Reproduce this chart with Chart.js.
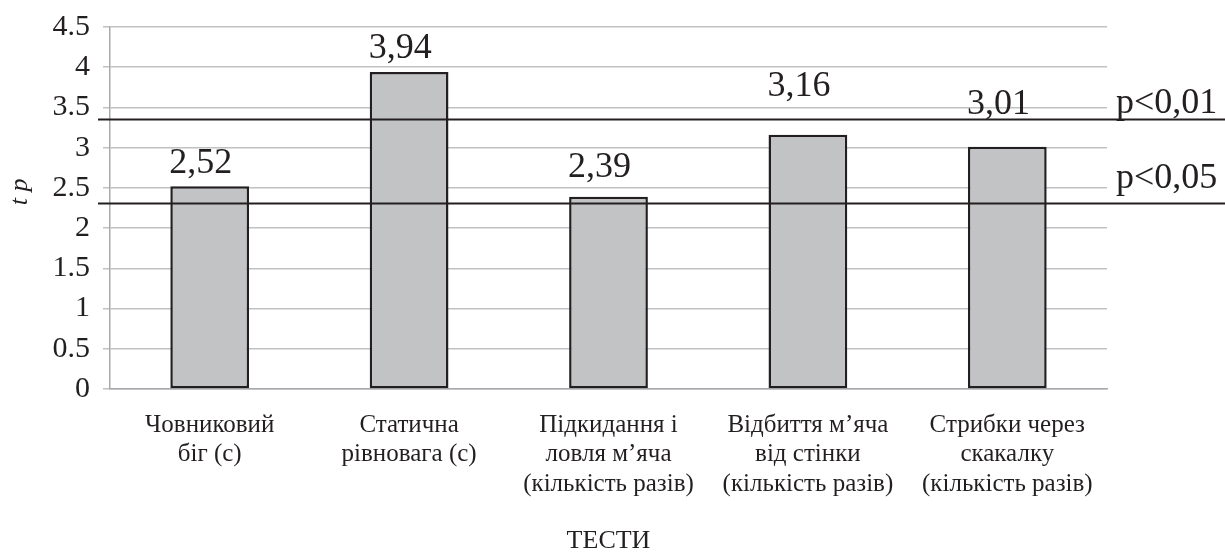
<!DOCTYPE html>
<html>
<head>
<meta charset="utf-8">
<script src="https://cdn.jsdelivr.net/npm/chart.js@4"></script>
<style>
  html, body { margin: 0; padding: 0; background: #ffffff; }
  #wrap { width: 1225px; height: 553px; position: relative; }
</style>
</head>
<body>
<div id="wrap"><canvas id="c" width="1225" height="553"></canvas></div>
<script>
// ---- data ----
const categories = [
  ['Човниковий', 'біг (с)'],
  ['Статична', 'рівновага (с)'],
  ['Підкидання і', 'ловля м’яча', '(кількість разів)'],
  ['Відбиття м’яча', 'від стінки', '(кількість разів)'],
  ['Стрибки через', 'скакалку', '(кількість разів)']
];
const tValues = [2.52, 3.94, 2.39, 3.16, 3.01];
const thresholdValues = [3.36, 2.31];
const thresholdLabels = ['p<0,01', 'p<0,05'];
const yTicks = [0, 0.5, 1, 1.5, 2, 2.5, 3, 3.5, 4, 4.5];
const yTitle = 't p';
const xTitle = 'ТЕСТИ';

const FONT = "'Liberation Serif', 'Times New Roman', serif";
const INK = '#231f20';

const overlayPlugin = {
  id: 'overlay',
  afterDatasetsDraw(chart) {
    const ctx = chart.ctx;
    const y = chart.scales.y;
    const area = chart.chartArea;
    const meta = chart.getDatasetMeta(0);
    ctx.save();
    // value labels (left-aligned with bar edge, lifted to clear the threshold lines)
    const labelLift = [13, 14, 20, 39, 33];
    ctx.font = '36px ' + FONT;
    ctx.fillStyle = INK;
    ctx.textAlign = 'left';
    ctx.textBaseline = 'alphabetic';
    meta.data.forEach((bar, i) => {
      ctx.fillText(tValues[i].toFixed(2).replace('.', ','), bar.x - bar.width / 2 - 1, bar.y - labelLift[i]);
    });
    // threshold lines
    const labelOffsets = [7, 16];
    ctx.strokeStyle = INK;
    ctx.lineWidth = 2.2;
    thresholdValues.forEach((v, i) => {
      const py = Math.round(y.getPixelForValue(v)) + 0.5;
      ctx.beginPath();
      ctx.moveTo(area.left - 12, py);
      ctx.lineTo(chart.width, py);
      ctx.stroke();
      ctx.textAlign = 'left';
      ctx.fillText(thresholdLabels[i], area.right + 9, py - labelOffsets[i]);
    });
    // y axis title (rotated)
    ctx.font = 'italic 26px ' + FONT;
    ctx.textAlign = 'center';
    ctx.textBaseline = 'middle';
    ctx.translate(20, y.getPixelForValue(2.45));
    ctx.rotate(-Math.PI / 2);
    ctx.fillText(yTitle, 0, 0);
    ctx.restore();
  }
};

new Chart(document.getElementById('c'), {
  type: 'bar',
  data: {
    labels: categories,
    datasets: [{
      data: tValues,
      backgroundColor: '#c2c3c5',
      borderColor: INK,
      borderWidth: 2.5,
      borderSkipped: false,
      barPercentage: 0.395,
      categoryPercentage: 1.0
    }]
  },
  options: {
    responsive: false,
    animation: false,
    devicePixelRatio: 1,
    layout: { padding: { left: 0, right: 118, top: 27, bottom: 0 } },
    plugins: {
      legend: { display: false },
      tooltip: { enabled: false }
    },
    scales: {
      x: {
        grid: { display: false, drawTicks: false },
        border: { display: true, color: '#a7a9ac', width: 1.5 },
        ticks: {
          font: { family: FONT, size: 25, lineHeight: 1.17 },
          color: INK,
          padding: 22,
          maxRotation: 0,
          autoSkip: false
        },
        title: {
          display: true,
          text: xTitle,
          font: { family: FONT, size: 26 },
          color: INK,
          padding: { top: 0, bottom: -4 }
        },
        afterFit(scale) { scale.height = 164; }
      },
      y: {
        min: 0,
        max: 4.5,
        afterBuildTicks(scale) { scale.ticks = yTicks.map(v => ({ value: v })); },
        grid: { color: '#c0c1c3', lineWidth: 1.5, drawTicks: true, tickLength: 7 },
        border: { display: true, color: '#a7a9ac', width: 1.5 },
        ticks: {
          font: { family: FONT, size: 30 },
          color: INK,
          padding: 13,
          callback: (v) => String(v)
        },
        title: { display: false },
        afterFit(scale) { scale.width = 110; scale.paddingTop = 0; }
      }
    }
  },
  plugins: [overlayPlugin]
});
</script>
</body>
</html>
